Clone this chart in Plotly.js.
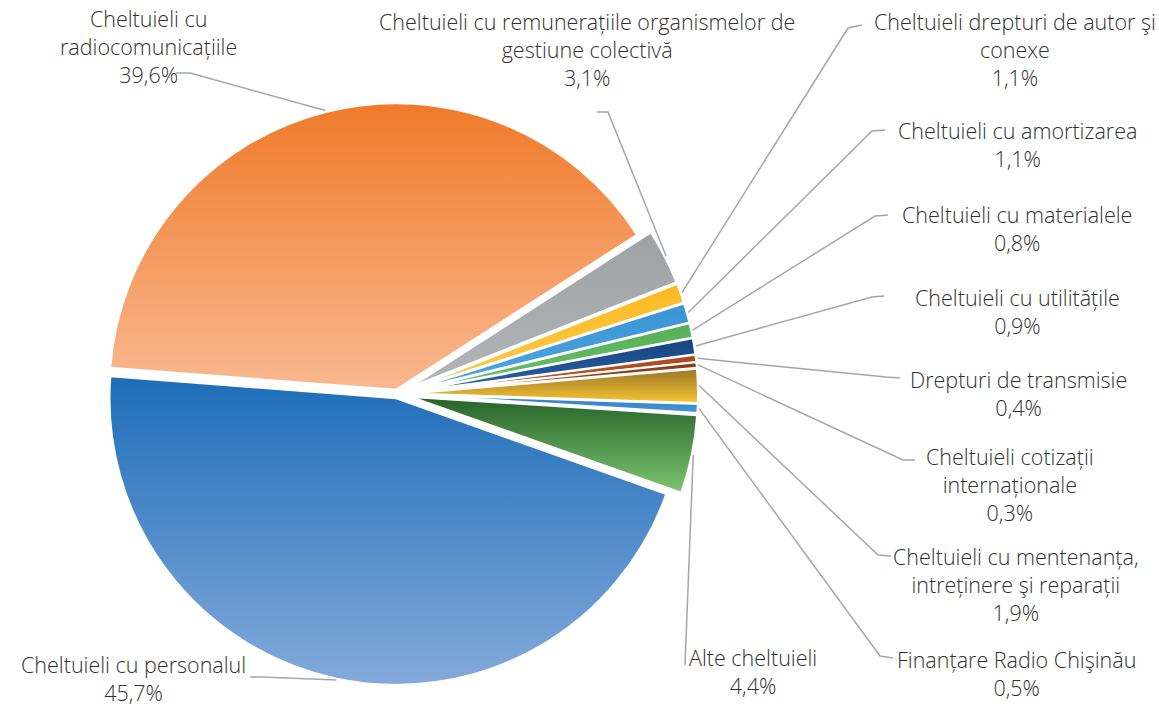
<!DOCTYPE html>
<html>
<head>
<meta charset="utf-8">
<script src="https://cdn.plot.ly/plotly-3.0.1.min.js"></script>
<style>
  html, body { margin: 0; padding: 0; background: #fff; }
  #chart { width: 1159px; height: 708px; }
</style>
</head>
<body>
<div id="chart"></div>
<script>
// Slices, clockwise starting from the orange one
var labels = [
  "Cheltuieli cu<br>radiocomunicațiile",
  "Cheltuieli cu remunerațiile organismelor de<br>gestiune colectivă",
  "Cheltuieli drepturi de autor şi<br>conexe",
  "Cheltuieli cu amortizarea",
  "Cheltuieli cu materialele",
  "Cheltuieli cu utilitățile",
  "Drepturi de transmisie",
  "Cheltuieli cotizații<br>internaționale",
  "Cheltuieli cu mentenanța,<br>intreținere şi reparații",
  "Finanțare Radio Chişinău",
  "Alte cheltuieli",
  "Cheltuieli cu personalul"
];
var values = [39.6, 3.1, 1.1, 1.1, 0.8, 0.9, 0.4, 0.3, 1.9, 0.5, 4.4, 45.7];

// Fill colours: [top, bottom] of each slice gradient
var colors = [
  ["#F07A2A", "#F9B890"],
  ["#9EA2A5", "#B2B5B7"],
  ["#FBBA22", "#FCCB4E"],
  ["#3A94D4", "#4FA6E0"],
  ["#55B057", "#6CC06A"],
  ["#16447E", "#2A62A6"],
  ["#A9471A", "#C0612A"],
  ["#8A3A14", "#A04A20"],
  ["#9A7628", "#F7C432"],
  ["#2E7CC2", "#4596DA"],
  ["#27622A", "#7CC670"],
  ["#1D6DB8", "#84AADB"]
];
var pulls = [0.015, 0.05, 0.05, 0.05, 0.05, 0.05, 0.05, 0.05, 0.05, 0.05, 0.05, 0.015];

// Where each label sits, and the elbow of its leader line (pixels)
var labelPos = [
  {x: 148, y: 46, ax: 176, ay: 73, ex: 190, ey: 73},
  {x: 587, y: 49, ax: 597, ay: 112, ex: 608, ey: 112},
  {x: 1015, y: 50, ax: 862, ay: 25, ex: 848, ey: 28},
  {x: 1017, y: 145, ax: 885, ay: 130, ex: 872, ey: 131},
  {x: 1017, y: 228, ax: 888, ay: 215, ex: 875, ey: 216},
  {x: 1017, y: 312, ax: 884, ay: 296, ex: 872, ey: 297},
  {x: 1018, y: 393, ax: 900, ay: 378, ex: 886, ey: 377},
  {x: 1010, y: 484, ax: 915, ay: 460, ex: 903, ey: 460},
  {x: 1016, y: 584, ax: 891, ay: 556, ex: 878, ey: 555},
  {x: 1016, y: 673, ax: 893, ay: 658, ex: 880, ey: 656},
  {x: 753, y: 671, ax: 685, ay: 665, ex: 685, ey: 665},
  {x: 133, y: 678, ax: 250, ay: 677, ex: 262, ey: 677}
];

var W = 1159, H = 708;
function px(x) { return x / W; }
function py(y) { return 1 - y / H; }

var trace = {
  type: "pie",
  labels: labels,
  values: values,
  sort: false,
  direction: "clockwise",
  rotation: -85.6,
  pull: pulls,
  textinfo: "none",
  hoverinfo: "none",
  marker: {
    colors: colors.map(function (c) { return c[0]; }),
    line: {color: "#ffffff", width: 2}
  },
  domain: {x: [0.0828, 0.6023], y: [0.0184, 0.8686]},
  showlegend: false
};

var layout = {
  width: W,
  height: H,
  margin: {l: 0, r: 0, t: 0, b: 0},
  paper_bgcolor: "#ffffff",
  showlegend: false,
  font: {family: "'Open Sans', sans-serif", size: 21.5, color: "#303030", weight: 300}
};

var gd = document.getElementById("chart");
Plotly.newPlot(gd, [trace], layout, {staticPlot: true, displayModeBar: false}).then(function () {
  var cd = gd.calcdata[0];
  var cd0 = cd[0];
  var shapes = [];
  var annotations = [];
  for (var i = 0; i < cd.length; i++) {
    var pt = cd[i];
    var pull = pulls[i];
    // outer edge of the slice at its middle angle
    var sx = cd0.cx + pt.pxmid[0] * (1 + pull + 0.005);
    var sy = cd0.cy + pt.pxmid[1] * (1 + pull + 0.005);
    var p = labelPos[i];
    shapes.push({
      type: "path", xref: "paper", yref: "paper",
      path: "M" + px(sx) + "," + py(sy) + " L" + px(p.ex) + "," + py(p.ey) + " L" + px(p.ax) + "," + py(p.ay),
      line: {color: "#A3A7AA", width: 1.5}
    });
    annotations.push({
      xref: "paper", yref: "paper",
      x: px(p.x), y: py(p.y),
      xanchor: "center", yanchor: "middle", align: "center",
      showarrow: false,
      text: labels[i] + "<br>" + values[i].toFixed(1).replace(".", ",") + "%"
    });
  }
  return Plotly.relayout(gd, {shapes: shapes, annotations: annotations});
}).then(function () {
  // vertical gradients like the original
  var defs = gd.querySelector("svg.main-svg defs");
  var ns = "http://www.w3.org/2000/svg";
  var paths = gd.querySelectorAll("g.slice path.surface");
  for (var i = 0; i < paths.length; i++) {
    var g = document.createElementNS(ns, "linearGradient");
    g.setAttribute("id", "grad" + i);
    g.setAttribute("x1", "0"); g.setAttribute("y1", "0");
    g.setAttribute("x2", "0"); g.setAttribute("y2", "1");
    [0, 1].forEach(function (k) {
      var s = document.createElementNS(ns, "stop");
      s.setAttribute("offset", k);
      s.setAttribute("stop-color", colors[i][k]);
      g.appendChild(s);
    });
    defs.appendChild(g);
    paths[i].style.fill = "url(#grad" + i + ")";
  }
});
</script>
</body>
</html>
